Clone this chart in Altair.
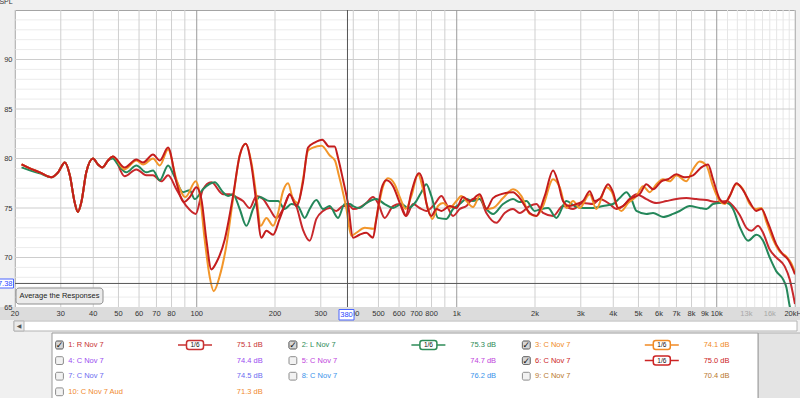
import altair as alt
import pandas as pd

W, H = 780, 297
FONT = "Liberation Sans"

# ---------------- measurement data (Hz, dB SPL) ----------------
low_freq = [21.2, 22.8, 24.9, 27.6, 29.3, 31.1, 32.5, 33.9, 34.9, 36.0, 37.6, 39.9, 41.7, 43.4, 45.6, 47.6]
low_spl = [79.4, 79.0, 78.6, 78.1, 78.6, 79.6, 78.3, 75.6, 74.6, 75.6, 78.6, 80.0, 79.4, 79.1, 79.8, 80.2]
low_spl_L = [79.1, 78.8, 78.5, 78.1, 78.6, 79.6, 78.3, 75.6, 74.6, 75.6, 78.6, 80.0, 79.4, 79.1, 79.8, 80.0]

r1_freq = low_freq + [52.8, 58.6, 64.0, 67.9, 73.1, 77.6, 83.5, 91.2, 99.1, 105.7, 113.8, 126.2, 133.9, 142.0,
                      150.7, 159.8, 169.6, 179.9, 190.8, 202.4, 214.8, 227.8, 241.6, 256.3, 271.9, 288.5, 306.0,
                      324.6, 344.4, 365.3, 388, 399, 423, 449, 476, 498, 528, 569, 604, 640, 679, 720, 764, 823,
                      873, 912, 968, 1027, 1089, 1155, 1226, 1300, 1421, 1529, 1646, 1747, 1908, 2024, 2147, 2347,
                      2563, 2801, 3060, 3344, 3546, 3875, 4111, 4362, 4627, 4909, 5362, 5859, 6401, 6994, 7643,
                      8349, 9123, 9968, 10889, 11553, 12257, 13002, 13590, 14415, 15071, 15987, 16956, 18257,
                      19080, 20000]
r1_spl = low_spl + [78.2, 78.9, 78.3, 78.3, 77.7, 78.3, 76.9, 75.2, 74.4, 76.9, 77.6, 76.4, 76.4, 76.1,
                    75.7, 75.0, 76.2, 75.9, 74.9, 74.0, 74.9, 76.4, 75.2, 72.8, 71.7, 73.9, 74.7,
                    75.0, 74.7, 75.2, 75.2, 74.9, 75.05, 75.5, 76.1, 75.5, 74.0, 75.2, 75.4, 74.2, 75.4, 75.0, 74.7, 75.4,
                    76.2, 75.4, 74.2, 74.9, 75.2, 75.9, 75.9, 74.5, 73.5, 74.5, 74.9, 74.5, 75.2, 75.4, 74.5, 74.2,
                    75.2, 74.9, 75.5, 75.4, 75.9, 75.4, 74.9, 75.2, 75.9, 76.4, 75.9, 75.5, 75.7, 75.9, 76.0,
                    75.9, 75.8, 75.6, 75.7, 75.2, 74.3, 73.0, 72.7, 73.2, 72.5, 70.8, 70.0, 69.1,
                    67.8, 65.3]

l2_freq = low_freq + [49.1, 53.6, 58.6, 64.0, 67.9, 72.1, 77.6, 82.3, 88.6, 94.0, 98.2, 105.7, 117.2, 126.2,
                      131.9, 137.9, 146.3, 155.2, 164.7, 174.6, 190.8, 205.5, 217.9, 231.2, 245.2, 260.1, 271.9,
                      288.5, 306.0, 324.6, 349.5, 370.7, 388, 399, 423, 449, 491, 528, 569, 613, 650, 699, 731,
                      764, 799, 847, 912, 968, 1027, 1089, 1155, 1226, 1300, 1379, 1507, 1646, 1747, 1852, 1994,
                      2116, 2245, 2417, 2640, 2843, 3060, 3344, 3654, 3991, 4235, 4492, 4695, 4909, 5362, 5689,
                      6215, 6790, 7203, 7870, 8600, 9123, 9677, 10266, 10889, 11553, 12257, 13196, 14204, 15071,
                      15987, 16956, 17989, 18526, 19080, 19700]
l2_spl = low_spl_L + [79.6, 78.6, 79.3, 78.6, 78.8, 77.8, 79.3, 78.1, 76.6, 76.8, 75.9, 76.9, 77.6, 76.6,
                      76.2, 76.4, 74.9, 73.2, 74.9, 76.1, 75.7, 75.7, 74.9, 75.4, 75.2, 74.0, 74.9,
                      75.8, 74.9, 75.2, 74.0, 75.4, 75.4, 75.2, 75.0, 75.5, 75.9, 75.4, 75.0, 75.4, 75.0, 75.7, 76.6,
                      77.4, 76.2, 74.0, 73.9, 74.9, 75.4, 75.9, 75.7, 75.9, 74.9, 74.4, 75.4, 75.9, 75.6, 75.7, 74.7,
                      74.9, 75.0, 74.0, 75.7, 75.2, 75.0, 75.0, 75.2, 75.4, 76.0, 76.6, 75.9, 74.7, 74.4, 74.5,
                      74.1, 74.4, 74.7, 75.2, 75.0, 74.9, 75.4, 75.5, 75.5, 74.9, 73.1, 71.7, 72.3, 71.7,
                      70.0, 68.6, 67.8, 67.0, 65.1, 64.0]

c3_freq = low_freq + [52.8, 58.6, 62.2, 67.9, 72.1, 77.6, 83.5, 90.5, 99.1, 102.7, 107.3, 112.1, 116.2, 122.5,
                      130.0, 137.9, 146.3, 154.3, 162.3, 169.6, 176.2, 185.3, 196.6, 205.5, 214.8, 224.5, 234.6,
                      245.2, 256.3, 268, 280, 302, 325, 340, 352, 362, 376, 393, 411, 443, 479, 498, 521, 544, 577,
                      604, 636, 669, 710, 742, 776, 806, 847, 886, 940, 997, 1042, 1089, 1155, 1226, 1300, 1379,
                      1507, 1646, 1773, 1908, 2024, 2147, 2347, 2489, 2640, 2801, 2971, 3247, 3443, 3763, 3933,
                      4173, 4297, 4559, 4909, 5206, 5523, 5859, 6215, 6593, 6994, 7643, 8106, 8600, 9123, 9677,
                      10266, 10730, 11215, 11898, 12624, 13391, 14204, 14847, 15522, 16465, 17468, 18526, 19364,
                      20000]
c3_spl = low_spl + [78.9, 79.8, 79.4, 80.0, 79.3, 80.9, 77.9, 76.1, 77.7, 76.4, 71.8, 68.1, 66.6, 68.1,
                    71.2, 75.9, 80.3, 81.5, 79.6, 76.2, 73.2, 74.0, 73.2, 74.5, 76.7, 77.5, 75.9,
                    75.5, 77.9, 80.8, 81.1, 81.3, 80.3, 79.8, 78.3, 77.0, 75.0, 72.2, 72.5, 73.0, 72.9, 74.9, 77.2, 78.0, 77.4,
                    76.1, 74.9, 76.2, 78.4, 76.9, 74.9, 73.9, 75.2, 75.5, 75.0, 75.7, 76.2, 75.7, 75.1, 76.2, 74.9, 75.0,
                    76.0, 76.9, 76.2, 74.4, 74.2, 75.2, 77.9, 77.1, 75.0, 75.7, 75.0, 76.4, 74.9, 77.1, 76.7,
                    75.0, 74.7, 75.5, 76.2, 77.2, 76.6, 77.4, 77.9, 77.7, 78.3, 77.7, 78.9, 79.7, 79.3, 77.2,
                    75.7, 75.4, 76.2, 77.4, 76.9, 75.4, 74.9, 75.0, 73.6, 71.8, 70.6, 70.1, 69.4,
                    68.5]

c6_freq = low_freq + [52.8, 58.6, 62.2, 67.9, 72.1, 77.6, 83.5, 89, 94.0, 99.7, 104.2, 108.9, 113.8, 119.0,
                      128.1, 137.9, 146.3, 154.3, 162.3, 169.6, 177.3, 185.3, 196.6, 208.4, 221.2, 227.8, 241.6,
                      256.3, 268, 284, 304, 323, 339, 350, 365, 382, 399, 423, 449, 476, 491, 513, 536, 569, 604,
                      636, 669, 716, 742, 764, 799, 835, 873, 940, 997, 1057, 1122, 1226, 1300, 1379, 1484, 1646,
                      1747, 1908, 2024, 2179, 2347, 2453, 2563, 2720, 2885, 3060, 3247, 3394, 3546, 3819, 3991,
                      4173, 4362, 4627, 5055, 5362, 5689, 6124, 6496, 6994, 7533, 8106, 8728, 9258, 9677, 10266,
                      10730, 11215, 11898, 12624, 13391, 14204, 14847, 15752, 16956, 17989, 18800, 19652, 20000]
c6_spl = low_spl + [79.1, 79.9, 79.6, 80.4, 79.8, 81.1, 77.6, 75.6, 76.1, 77.1, 75.9, 71.8, 68.8, 69.5,
                    71.8, 76.2, 80.3, 81.5, 79.3, 75.5, 72.0, 72.7, 72.3, 73.9, 75.7, 76.4, 75.2,
                    77.6, 81.1, 81.6, 81.9, 81.2, 81.2, 80.0, 77.9, 75.4, 72.0, 72.3, 72.5, 72.0, 73.9, 76.9, 77.8, 77.2, 75.5,
                    74.2, 76.6, 78.5, 77.6, 75.5, 74.2, 74.9, 74.7, 75.2, 75.0, 76.1, 75.7, 76.4, 74.9, 76.0, 76.4, 76.6,
                    76.0, 74.5, 74.2, 76.2, 78.8, 77.6, 75.7, 75.2, 75.4, 75.7, 76.7, 75.7, 75.9, 77.4, 76.6,
                    75.0, 75.2, 75.9, 76.4, 77.4, 76.9, 77.7, 77.9, 78.4, 78.1, 78.3, 79.1, 79.4, 77.9, 75.9,
                    75.5, 76.2, 77.5, 76.8, 75.6, 74.7, 74.9, 73.5, 71.3, 70.3, 69.8, 68.8, 68.3]

# ---------------- axes / grid ----------------
y_tick_values = [65, 70, 75, 80, 85, 90]
spl_major = [70, 75, 80, 85, 90]
spl_minor = [66, 67, 68, 69, 71, 72, 73, 74, 76, 77, 78, 79, 81, 82, 83, 84, 86, 87, 88, 89, 91, 92, 93, 94]
freq_grid = [20, 30, 40, 50, 60, 70, 80, 90, 200, 300, 400, 500, 600, 700, 800, 900,
             2000, 3000, 4000, 5000, 6000, 7000, 8000, 9000, 20000]
freq_decades = [100, 1000, 10000]
freq_grid_hi = [11000, 12000, 13000, 14000, 15000, 16000, 17000, 18000, 19000]
tick_freq = [20, 30, 40, 50, 60, 70, 80, 100, 200, 300, 400, 500, 600, 700, 800, 1000, 2000, 3000, 4000,
             5000, 6000, 7000, 8000, 9000, 10000, 13000, 16000, 20000]
tick_text = ["20", "30", "40", "50", "60", "70", "80", "100", "200", "300", "400", "500", "600", "700", "800",
             "1k", "2k", "3k", "4k", "5k", "6k", "7k", "8k", "9k", "10k", "13k", "16k", "20kHz"]
dim_ticks = [13000, 16000]

cursor_freq = [380]
cursor_spl = [67.38]

# ---------------- legend table ----------------
legend_idx = [1, 2, 3, 4, 5, 6, 7, 8, 9, 10]
legend_names = ["1: R Nov 7", "2: L Nov 7", "3: C Nov 7", "4: C Nov 7", "5: C Nov 7", "6: C Nov 7",
                "7: C Nov 7", "8: C Nov 7", "9: C Nov 7", "10: C Nov 7 Aud"]
legend_values = ["75.1 dB", "75.3 dB", "74.1 dB", "74.4 dB", "74.7 dB", "75.0 dB", "74.5 dB", "76.2 dB",
                 "70.4 dB", "71.3 dB"]
legend_checked = [True, True, True, False, False, True, False, False, False, False]
legend_colors = ["#c83232", "#2e8b57", "#f08a24", "#9a4cf0", "#c044dc", "#cc2424", "#6c6cf0", "#3a92ea",
                 "#b8782c", "#f08a30"]

line_colors = {"r1": "#c8282c", "l2": "#24875a", "c3": "#f2962a", "c6": "#c41c1c"}

xs = alt.Scale(type="log", domain=[20, 20000], nice=False)
ys = alt.Scale(domain=[65, 95], nice=False, zero=False)
yaxis = alt.Axis(values=y_tick_values, grid=False, domain=False, ticks=False, labelPadding=3,
                 labelFontSize=7.5, labelFont=FONT, labelColor="#333", title=None, zindex=1)

one = pd.DataFrame({"k": [0]})


def box(x1, x2, y1, y2, **kw):
    return alt.Chart(one).mark_rect(**kw).encode(
        x=alt.value(x1), x2=alt.value(x2), y=alt.value(y1), y2=alt.value(y2))


def label(x, y, text, **kw):
    return alt.Chart(one).mark_text(text=text, baseline="middle", **kw).encode(x=alt.value(x), y=alt.value(y))


def vgrid(freqs, color):
    return alt.Chart(pd.DataFrame({"freq": freqs})).mark_rule(color=color, strokeWidth=1).encode(
        x=alt.X("freq:Q", scale=xs, axis=None), y=alt.value(0), y2=alt.value(H))


def hgrid(spls, color):
    return alt.Chart(pd.DataFrame({"spl": spls})).mark_rule(color=color, strokeWidth=1).encode(
        y=alt.Y("spl:Q", scale=ys, axis=yaxis), x=alt.value(0), x2=alt.value(W))


def curve(freqs, spls, color):
    assert len(freqs) == len(spls)
    df = pd.DataFrame({"freq": freqs, "spl": spls})
    return alt.Chart(df).mark_line(color=color, strokeWidth=2, interpolate="monotone", clip=True).encode(
        x=alt.X("freq:Q", scale=xs, axis=None), y=alt.Y("spl:Q", scale=ys, axis=yaxis))


layers = []
# window chrome (coordinates relative to plot origin)
layers.append(box(-15, 785, 297, 310, fill="#dcdcdc"))
layers.append(box(-1, 782, 311, 321, fill="white", stroke="#b4b4b4", strokeWidth=1))
layers.append(box(-1, 9, 311, 321, fill="#eaeaea", stroke="#b4b4b4", strokeWidth=1))
layers.append(label(4, 316, "\u25c0", fontSize=6, color="#555", font="DejaVu Sans"))
layers.append(box(743, 790, 323, 392, fill="#e4e4e4", stroke="#b0b0b0", strokeWidth=1))
layers.append(box(37, 743, 323, 392, fill="white", stroke="#9a9a9a", strokeWidth=1))

# grid
layers.append(hgrid(spl_minor, "#ececec"))
layers.append(vgrid(freq_grid_hi, "#e6e6e6"))
layers.append(vgrid(freq_grid, "#cfcfcf"))
layers.append(hgrid(spl_major, "#cdcdcd"))
layers.append(vgrid(freq_decades, "#9c9c9c"))

# curves
layers.append(curve(r1_freq, r1_spl, line_colors["r1"]))
layers.append(curve(l2_freq, l2_spl, line_colors["l2"]))
layers.append(curve(c3_freq, c3_spl, line_colors["c3"]))
layers.append(curve(c6_freq, c6_spl, line_colors["c6"]))

# cursors
layers.append(alt.Chart(pd.DataFrame({"freq": cursor_freq})).mark_rule(color="#555", strokeWidth=1).encode(
    x=alt.X("freq:Q", scale=xs, axis=None), y=alt.value(0), y2=alt.value(H)))
layers.append(alt.Chart(pd.DataFrame({"spl": cursor_spl})).mark_rule(color="#555", strokeWidth=1).encode(
    y=alt.Y("spl:Q", scale=ys, axis=yaxis), x=alt.value(0), x2=alt.value(W)))

# x tick labels
dim_expr = " || ".join(f"datum.freq == {v}" for v in dim_ticks)
layers.append(alt.Chart(pd.DataFrame({"freq": tick_freq, "label": tick_text})).mark_text(
    fontSize=7.5, font=FONT, baseline="middle").encode(
    x=alt.X("freq:Q", scale=xs, axis=None), y=alt.value(304.3), text="label:N",
    color=alt.condition(dim_expr, alt.value("#a8a8a8"), alt.value("#333"))))

# cursor readouts
layers.append(box(-30, -1.5, 269, 278, fill="white", stroke="#4a64ff", strokeWidth=1))
layers.append(label(-2.5, 273.7, f"{cursor_spl[0]:.2f}", align="right", fontSize=7.5, font=FONT, color="#2a46ff"))
layers.append(box(324, 339, 299.5, 310, fill="white", stroke="#4a64ff", strokeWidth=1))
layers.append(label(331.5, 304.8, f"{cursor_freq[0]}", align="center", fontSize=7.5, font=FONT, color="#2a46ff"))

# button
layers.append(box(1, 88, 278, 294, fill="#ebebeb", stroke="#8f8f8f", strokeWidth=1, cornerRadius=3))
layers.append(label(44.5, 286.3, "Average the Responses", align="center", fontSize=7.5, font=FONT, color="#222"))

# SPL title
layers.append(label(-9, -8, "SPL", align="center", fontSize=7, font=FONT, color="#333"))

# legend table
leg_df = pd.DataFrame({"idx": legend_idx, "name": legend_names, "val": legend_values,
                       "color": legend_colors, "checked": legend_checked})
leg = alt.Chart(leg_df).transform_calculate(
    row="floor((datum.idx - 1) / 3)", col="(datum.idx - 1) % 3"
).transform_calculate(
    cy="335 + datum.row * 15.6", x0="datum.col * 233.4"
).transform_calculate(
    cbx1="40.6 + datum.x0", cbx2="48.4 + datum.x0", cby1="datum.cy - 3.9", cby2="datum.cy + 3.9",
    cbx="44.5 + datum.x0", lx="53.3 + datum.x0", ix1="163 + datum.x0", ix2="197 + datum.x0",
    bx1="171.5 + datum.x0", bx2="188.5 + datum.x0", by1="datum.cy - 4.5", by2="datum.cy + 4.5",
    ix="180 + datum.x0", vx="247.7 + datum.x0"
)


def P(f):
    return alt.X(f + ":Q", scale=None, axis=None)


def PY(f):
    return alt.Y(f + ":Q", scale=None, axis=None)


layers.append(leg.mark_rect(fill="#f2f2f2", stroke="#8c8c8c", strokeWidth=1, cornerRadius=1.5).encode(
    x=P("cbx1"), x2=alt.X2("cbx2"), y=PY("cby1"), y2=alt.Y2("cby2")))
layers.append(leg.transform_filter("datum.checked").mark_rect(fill="#d6d6d6", stroke="#6c6c6c", strokeWidth=1,
                                                                cornerRadius=1.5).encode(
    x=P("cbx1"), x2=alt.X2("cbx2"), y=PY("cby1"), y2=alt.Y2("cby2")))
layers.append(leg.transform_filter("datum.checked").mark_text(
    text="\u2713", fontSize=9, fontWeight="bold", font="DejaVu Sans", color="#111", baseline="middle").encode(
    x=P("cbx"), y=PY("cy")))
layers.append(leg.mark_text(align="left", baseline="middle", fontSize=7.5, font=FONT).encode(
    x=P("lx"), y=PY("cy"), text="name:N", color=alt.Color("color:N", scale=None)))
layers.append(leg.mark_text(align="right", baseline="middle", fontSize=7.5, font=FONT).encode(
    x=P("vx"), y=PY("cy"), text="val:N", color=alt.Color("color:N", scale=None)))
layers.append(leg.transform_filter("datum.checked").mark_rule(strokeWidth=1.5).encode(
    x=P("ix1"), x2=alt.X2("ix2"), y=PY("cy"), color=alt.Color("color:N", scale=None)))
layers.append(leg.transform_filter("datum.checked").mark_rect(fill="white", strokeWidth=1.5, cornerRadius=2.5).encode(
    x=P("bx1"), x2=alt.X2("bx2"), y=PY("by1"), y2=alt.Y2("by2"), stroke=alt.Stroke("color:N", scale=None)))
layers.append(leg.transform_filter("datum.checked").mark_text(
    text="1/6", fontSize=6.5, font=FONT, color="#111", baseline="middle").encode(
    x=P("ix"), y=PY("cy")))

chart = alt.layer(*layers).properties(
    width=W, height=H,
    autosize=alt.AutoSizeParams(type="none"),
    padding={"left": 15, "top": 10, "right": 5, "bottom": 91},
).configure(background="#f0f0f0").configure_view(stroke="#a4a4a4", fill="white", strokeWidth=1)

chart.save("out.html", embed_options={"renderer": "svg", "actions": False})
